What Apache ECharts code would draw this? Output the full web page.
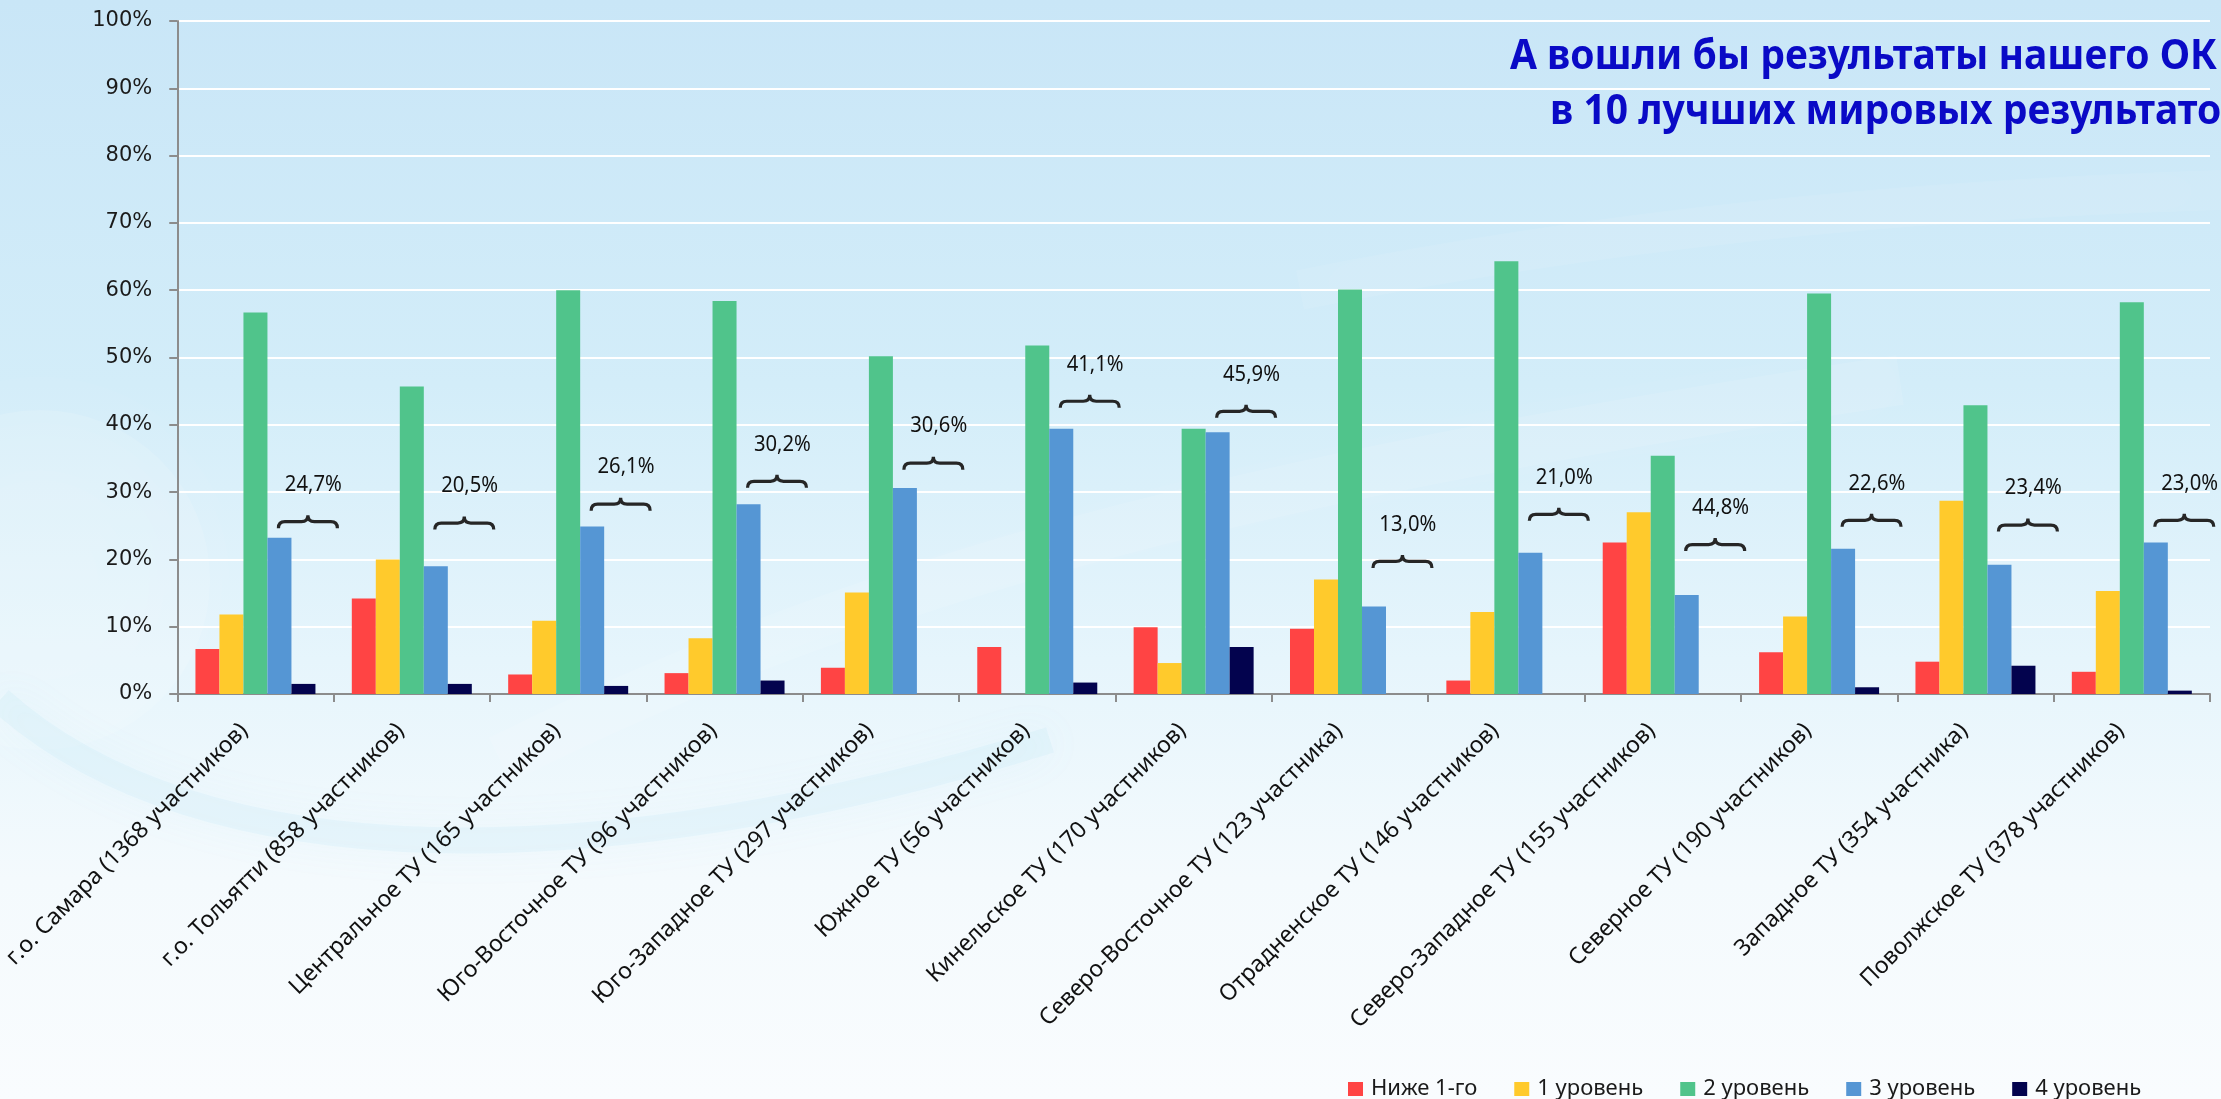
<!DOCTYPE html>
<html>
<head>
<meta charset="utf-8">
<script src="https://cdn.jsdelivr.net/npm/echarts@6/dist/echarts.min.js"></script>
<style>
html,body{margin:0;padding:0;width:2221px;height:1099px;overflow:hidden;background:#eaf6fc;}
#chart{width:2221px;height:1099px;}
</style>
</head>
<body>
<div id="chart"></div>
<script>
// ---- data ----
const categories = [
  "г.о. Самара (1368 участников)",
  "г.о. Тольятти (858 участников)",
  "Центральное ТУ (165 участников)",
  "Юго-Восточное ТУ (96 участников)",
  "Юго-Западное ТУ (297 участников)",
  "Южное ТУ (56 участников)",
  "Кинельское ТУ (170 участников)",
  "Северо-Восточное ТУ (123 участника)",
  "Отрадненское ТУ (146 участников)",
  "Северо-Западное ТУ (155 участников)",
  "Северное ТУ (190 участников)",
  "Западное ТУ (354 участника)",
  "Поволжское ТУ (378 участников)"
];
const seriesNames = ["Ниже 1-го", "1 уровень", "2 уровень", "3 уровень", "4 уровень"];
const below1 = [6.7, 14.2, 2.9, 3.1, 3.9, 7.0, 9.9, 9.7, 2.0, 22.5, 6.2, 4.8, 3.3];
const level1 = [11.8, 20.0, 10.9, 8.3, 15.1, 0, 4.6, 17.0, 12.2, 27.0, 11.5, 28.7, 15.3];
const level2 = [56.7, 45.7, 60.0, 58.4, 50.2, 51.8, 39.4, 60.1, 64.3, 35.4, 59.5, 42.9, 58.2];
const level3 = [23.2, 19.0, 24.9, 28.2, 30.6, 39.4, 38.9, 13.0, 21.0, 14.7, 21.6, 19.2, 22.5];
const level4 = [1.5, 1.5, 1.2, 2.0, 0, 1.7, 7.0, 0, 0, 0, 1.0, 4.2, 0.5];
// annotated share (3+4 level) and the height (in %) at which its brace sits
const topShare = [24.7, 20.5, 26.1, 30.2, 30.6, 41.1, 45.9, 13.0, 21.0, 44.8, 22.6, 23.4, 23.0];
const braceAt = [25.6, 25.4, 28.2, 31.6, 34.3, 43.5, 42.0, 19.7, 26.7, 22.2, 25.8, 25.1, 25.8];
const yTicks = [0, 10, 20, 30, 40, 50, 60, 70, 80, 90, 100];
const titleLines = ["А вошли бы результаты нашего ОК", "в 10 лучших мировых результатов"];

const colors = ["#FF4444", "#FFCA2C", "#50C48B", "#5596D4", "#03034E"];
const levels = [below1, level1, level2, level3, level4];

const chart = echarts.init(document.getElementById('chart'), null, {renderer: 'canvas'});

// title width fit (Calibri-like condensed look)
const cv = document.createElement('canvas').getContext('2d');
const titleFont = 'bold 42px "Noto Sans"';
cv.font = titleFont;
const titleScale = 680 / cv.measureText("А вошли бы результаты нашего О").width;

const bars = levels.map((arr, i) => ({
  name: seriesNames[i],
  type: 'bar',
  data: arr,
  barWidth: 24,
  barGap: '0%',
  itemStyle: {color: colors[i]},
  silent: true,
  z: 3
}));

const braceSeries = {
  type: 'custom',
  silent: true,
  z: 5,
  data: topShare.map((v, i) => [i, braceAt[i], v]),
  encode: {x: 0, y: 1},
  renderItem: function (params, api) {
    const c = api.coord([api.value(0), api.value(1)]);
    const band = api.size([1, 0])[0];
    const x0 = c[0] + band * 0.147, x1 = c[0] + band * 0.524;
    const xm = (x0 + x1) / 2, y = c[1], h = 6.5;
    const path = `M${x0} ${y + h} Q${x0} ${y} ${x0 + h} ${y} L${xm - h} ${y} Q${xm} ${y} ${xm} ${y - h} ` +
      `Q${xm} ${y} ${xm + h} ${y} L${x1 - h} ${y} Q${x1} ${y} ${x1} ${y + h}`;
    const txt = api.value(2).toFixed(1).replace('.', ',') + '%';
    return {
      type: 'group',
      children: [
        {type: 'path', shape: {pathData: path}, style: {fill: null, stroke: '#262626', lineWidth: 3.2}},
        {type: 'text', x: c[0] + band * 0.37, y: y - 37, scaleX: 0.92,
          style: {x: 0, y: 0, text: txt, font: '22px "Noto Sans"', fill: '#111', align: 'center', verticalAlign: 'middle'}}
      ]
    };
  }
};

const option = {
  animation: false,
  backgroundColor: {
    type: 'linear', x: 0, y: 0, x2: 0, y2: 1,
    colorStops: [
      {offset: 0, color: '#c9e6f7'},
      {offset: 0.35, color: '#d3edf9'},
      {offset: 0.6, color: '#e6f5fc'},
      {offset: 0.8, color: '#f4fafd'},
      {offset: 1, color: '#f9fcfe'}
    ]
  },
  graphic: [
    {type: 'circle', z: -1, silent: true, shape: {cx: 40, cy: 580, r: 170},
      style: {fill: 'rgba(255,255,255,0.12)', shadowBlur: 120, shadowColor: 'rgba(255,255,255,0.8)'}},
    {type: 'bezierCurve', z: -1, silent: true,
      shape: {x1: 500, y1: 760, cpx1: 900, cpy1: 560, cpx2: 1300, cpy2: 470, x2: 1900, y2: 380},
      style: {fill: null, stroke: 'rgba(255,255,255,0.1)', lineWidth: 50, shadowBlur: 60, shadowColor: 'rgba(255,255,255,0.7)'}},
    {type: 'bezierCurve', z: -1, silent: true,
      shape: {x1: 1300, y1: 290, cpx1: 1600, cpy1: 230, cpx2: 1900, cpy2: 200, x2: 2221, y2: 190},
      style: {fill: null, stroke: 'rgba(255,255,255,0.08)', lineWidth: 40, shadowBlur: 60, shadowColor: 'rgba(255,255,255,0.7)'}},
    {type: 'bezierCurve', z: -1, silent: true,
      shape: {x1: 0, y1: 700, cpx1: 200, cpy1: 880, cpx2: 600, cpy2: 880, x2: 1050, y2: 740},
      style: {fill: null, stroke: 'rgba(150,212,232,0.1)', lineWidth: 26, shadowBlur: 40, shadowColor: 'rgba(150,212,232,0.6)'}},
    {type: 'text', z: 10, silent: true, x: 1510, y: 57, scaleX: titleScale,
      style: {x: 0, y: 0, text: titleLines[0], font: titleFont, fill: '#0A0AC6', verticalAlign: 'middle'}},
    {type: 'text', z: 10, silent: true, x: 1550, y: 112, scaleX: titleScale,
      style: {x: 0, y: 0, text: titleLines[1], font: titleFont, fill: '#0A0AC6', verticalAlign: 'middle'}}
  ],
  legend: {
    data: seriesNames,
    left: 1343, top: 1073,
    itemWidth: 15, itemHeight: 14, itemGap: 37,
    icon: 'rect',
    textStyle: {fontFamily: 'Noto Sans', fontSize: 22, color: '#1a1a1a', padding: [0, 0, 0, 3]}
  },
  grid: {left: 175, right: 11, top: 21, bottom: 405, containLabel: false},
  xAxis: {
    type: 'category',
    data: categories,
    axisLine: {lineStyle: {color: '#8c8c8c', width: 2}},
    axisTick: {show: true, length: 8, lineStyle: {color: '#8c8c8c', width: 2}},
    axisLabel: {
      interval: 0, rotate: 45, margin: 22, padding: [0, 16, 0, 0],
      fontFamily: 'Noto Sans', fontSize: 23, color: '#111'
    },
    splitLine: {show: false}
  },
  yAxis: {
    type: 'value',
    min: 0, max: 100, interval: 10,
    axisLine: {show: true, lineStyle: {color: '#8c8c8c', width: 2}},
    axisTick: {show: true, length: 8, lineStyle: {color: '#8c8c8c', width: 2}},
    axisLabel: {
      margin: 25,
      fontFamily: 'DejaVu Sans', fontSize: 21, color: '#1a1a1a',
      formatter: v => (yTicks.indexOf(v) >= 0 ? v + '%' : '')
    },
    splitLine: {show: true, lineStyle: {color: '#ffffff', width: 2}}
  },
  series: bars.concat([braceSeries])
};
chart.setOption(option);
</script>
</body>
</html>
